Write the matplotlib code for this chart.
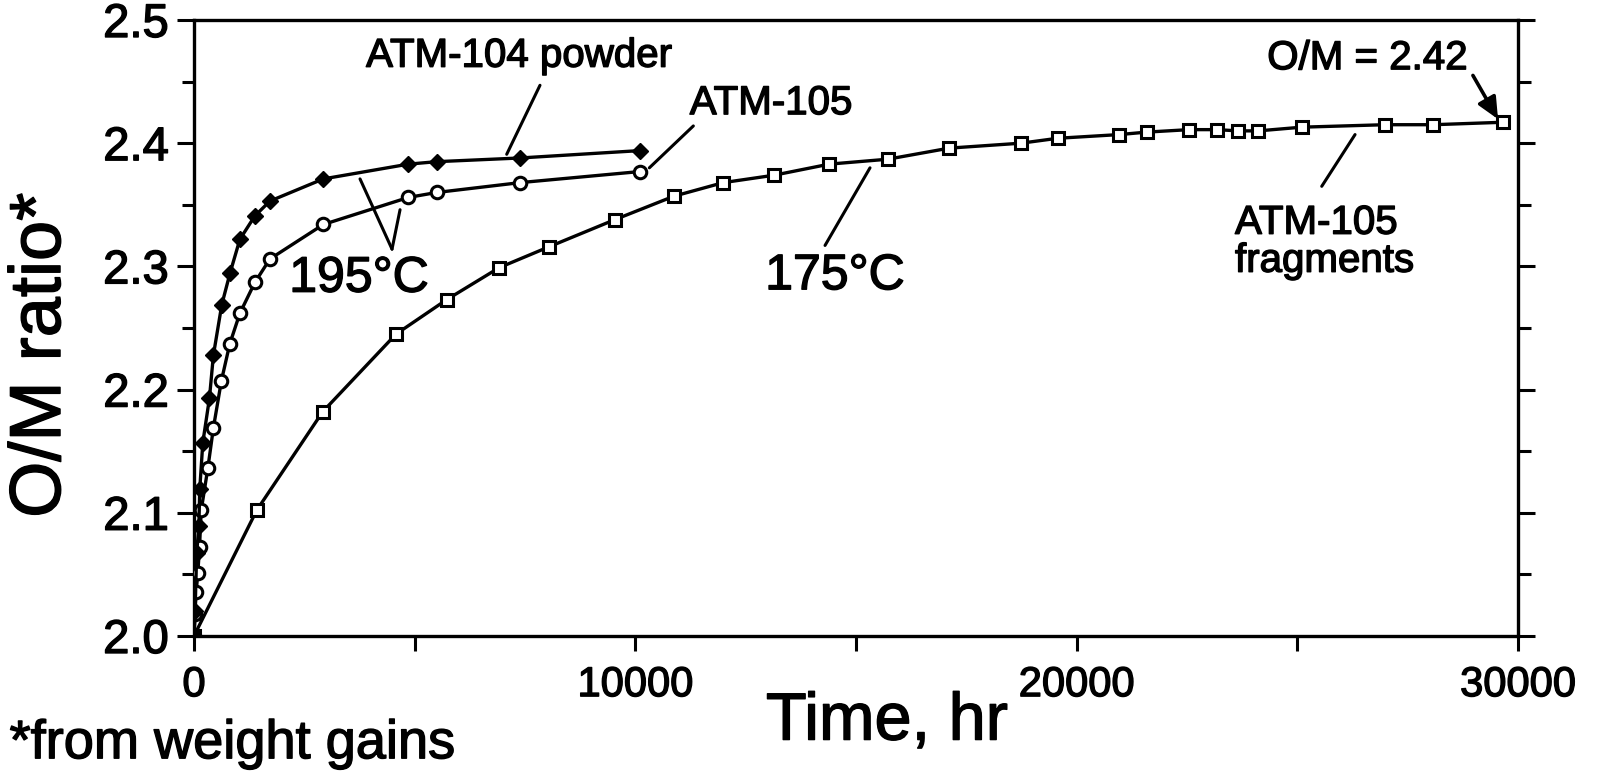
import matplotlib
matplotlib.use("Agg")
import matplotlib.pyplot as plt
import matplotlib.patheffects as pe
from matplotlib.ticker import MultipleLocator

plt.rcParams['font.family'] = ['Liberation Sans', 'DejaVu Sans']

# ATM-104 powder, 195 C (filled diamonds)
t_104 = [0, 25, 60, 110, 130, 200, 350, 440, 630, 820, 1040, 1380, 1720, 2930, 4860, 5500, 7390, 10110]
om_104 = [2.000, 2.020, 2.067, 2.089, 2.119, 2.157, 2.193, 2.228, 2.269, 2.295, 2.322, 2.341, 2.353, 2.371, 2.383, 2.385, 2.388, 2.394]

# ATM-105 powder, 195 C (open circles)
t_105 = [0, 20, 50, 86, 125, 163, 313, 440, 620, 810, 1040, 1380, 1720, 2930, 4860, 5500, 7390, 10110]
om_105 = [2.000, 2.018, 2.036, 2.051, 2.072, 2.102, 2.136, 2.169, 2.207, 2.237, 2.262, 2.287, 2.306, 2.334, 2.356, 2.360, 2.368, 2.377]

# ATM-105 fragments, 175 C (open squares)
t_frag = [0, 1421, 2916, 4577, 5726, 6918, 8051, 9540, 10877, 11994, 13143, 14396, 15720, 17115,
          18740, 19572, 20968, 21588, 22547, 23174, 23664, 24117, 25101, 26988, 28083, 29670]
om_frag = [2.000, 2.102, 2.182, 2.245, 2.273, 2.299, 2.316, 2.338, 2.357, 2.368, 2.374, 2.383, 2.387, 2.396,
           2.400, 2.404, 2.407, 2.409, 2.411, 2.411, 2.410, 2.410, 2.413, 2.415, 2.415, 2.417]

x_ticks = [0, 10000, 20000, 30000]
y_ticks = [2.0, 2.1, 2.2, 2.3, 2.4, 2.5]

heavy = [pe.withStroke(linewidth=1.0, foreground='black')]

fig = plt.figure(figsize=(15.98, 7.72), dpi=100)
ax = fig.add_axes([0.1214, 0.1762, 0.8285, 0.7979])

lw = 2.4
ax.plot(t_frag, om_frag, '-', color='black', lw=lw, marker='s', ms=9, mfc='white', mec='black', mew=2.2, zorder=3)
ax.plot(t_105, om_105, '-', color='black', lw=lw, marker='o', ms=9, mfc='white', mec='black', mew=2.2, zorder=4)
ax.plot(t_104, om_104, '-', color='black', lw=lw, marker='D', ms=8, mfc='black', mec='black', mew=1.0, zorder=5)

ax.set_xlim(0, 30000)
ax.set_ylim(2.0, 2.5)
ax.set_xticks(x_ticks)
ax.set_xticklabels([str(v) for v in x_ticks])
ax.set_yticks(y_ticks)
ax.set_yticklabels([f"{v:.1f}" for v in y_ticks])
ax.xaxis.set_minor_locator(MultipleLocator(5000))
ax.yaxis.set_minor_locator(MultipleLocator(0.05))

for s in ax.spines.values():
    s.set_linewidth(2.4)
ax.tick_params(axis='both', which='both', direction='out', width=2.2)
ax.tick_params(axis='y', which='major', length=12, pad=6, right=True, labelsize=34)
ax.tick_params(axis='y', which='minor', length=9, right=True)
ax.tick_params(axis='x', which='major', length=11, pad=10, labelsize=30)
ax.tick_params(axis='x', which='minor', length=11)
for lab in ax.get_xticklabels() + ax.get_yticklabels():
    lab.set_path_effects(heavy)

fig.text(0.555, 0.064, "Time, hr", fontsize=48, ha='center', va='center', path_effects=heavy)
fig.text(0.026, 0.54, "O/M ratio*", fontsize=52, ha='center', va='center', rotation=90, path_effects=heavy)
fig.text(0.006, 0.036, "*from weight gains", fontsize=39, ha='left', va='center', path_effects=heavy)

lp = dict(arrowstyle='-', color='black', lw=2.2, shrinkA=0, shrinkB=0)

ax.text(7365, 2.471, "ATM-104 powder", fontsize=29, ha='center', va='center', path_effects=heavy)
ax.annotate("", xy=(7086, 2.391), xytext=(7840, 2.447), arrowprops=lp)

ax.text(13075, 2.4325, "ATM-105", fontsize=29, ha='center', va='center', path_effects=heavy)
ax.annotate("", xy=(10318, 2.380), xytext=(11315, 2.414), arrowprops=lp)

ax.text(3740, 2.290, "195°C", fontsize=36, ha='center', va='center', path_effects=heavy)
ax.annotate("", xy=(3762, 2.371), xytext=(4487, 2.314), arrowprops=lp)
ax.annotate("", xy=(4669, 2.346), xytext=(4487, 2.314), arrowprops=lp)

ax.text(14525, 2.292, "175°C", fontsize=36, ha='center', va='center', path_effects=heavy)
ax.annotate("", xy=(15318, 2.380), xytext=(14299, 2.317), arrowprops=lp)

ax.text(23589, 2.320, "ATM-105\nfragments", fontsize=29, ha='left', va='center', linespacing=1.0,
        path_effects=heavy)
ax.annotate("", xy=(26309, 2.407), xytext=(25554, 2.365), arrowprops=lp)

ax.text(26581, 2.469, "O/M = 2.42", fontsize=29, ha='center', va='center', path_effects=heavy)
ax.annotate("", xy=(29549, 2.4195), xytext=(28980, 2.455),
            arrowprops=dict(arrowstyle='-|>,head_length=1.3,head_width=0.6', color='black', lw=2.6,
                            shrinkA=0, shrinkB=0))

fig.savefig("out.png", dpi=100)
